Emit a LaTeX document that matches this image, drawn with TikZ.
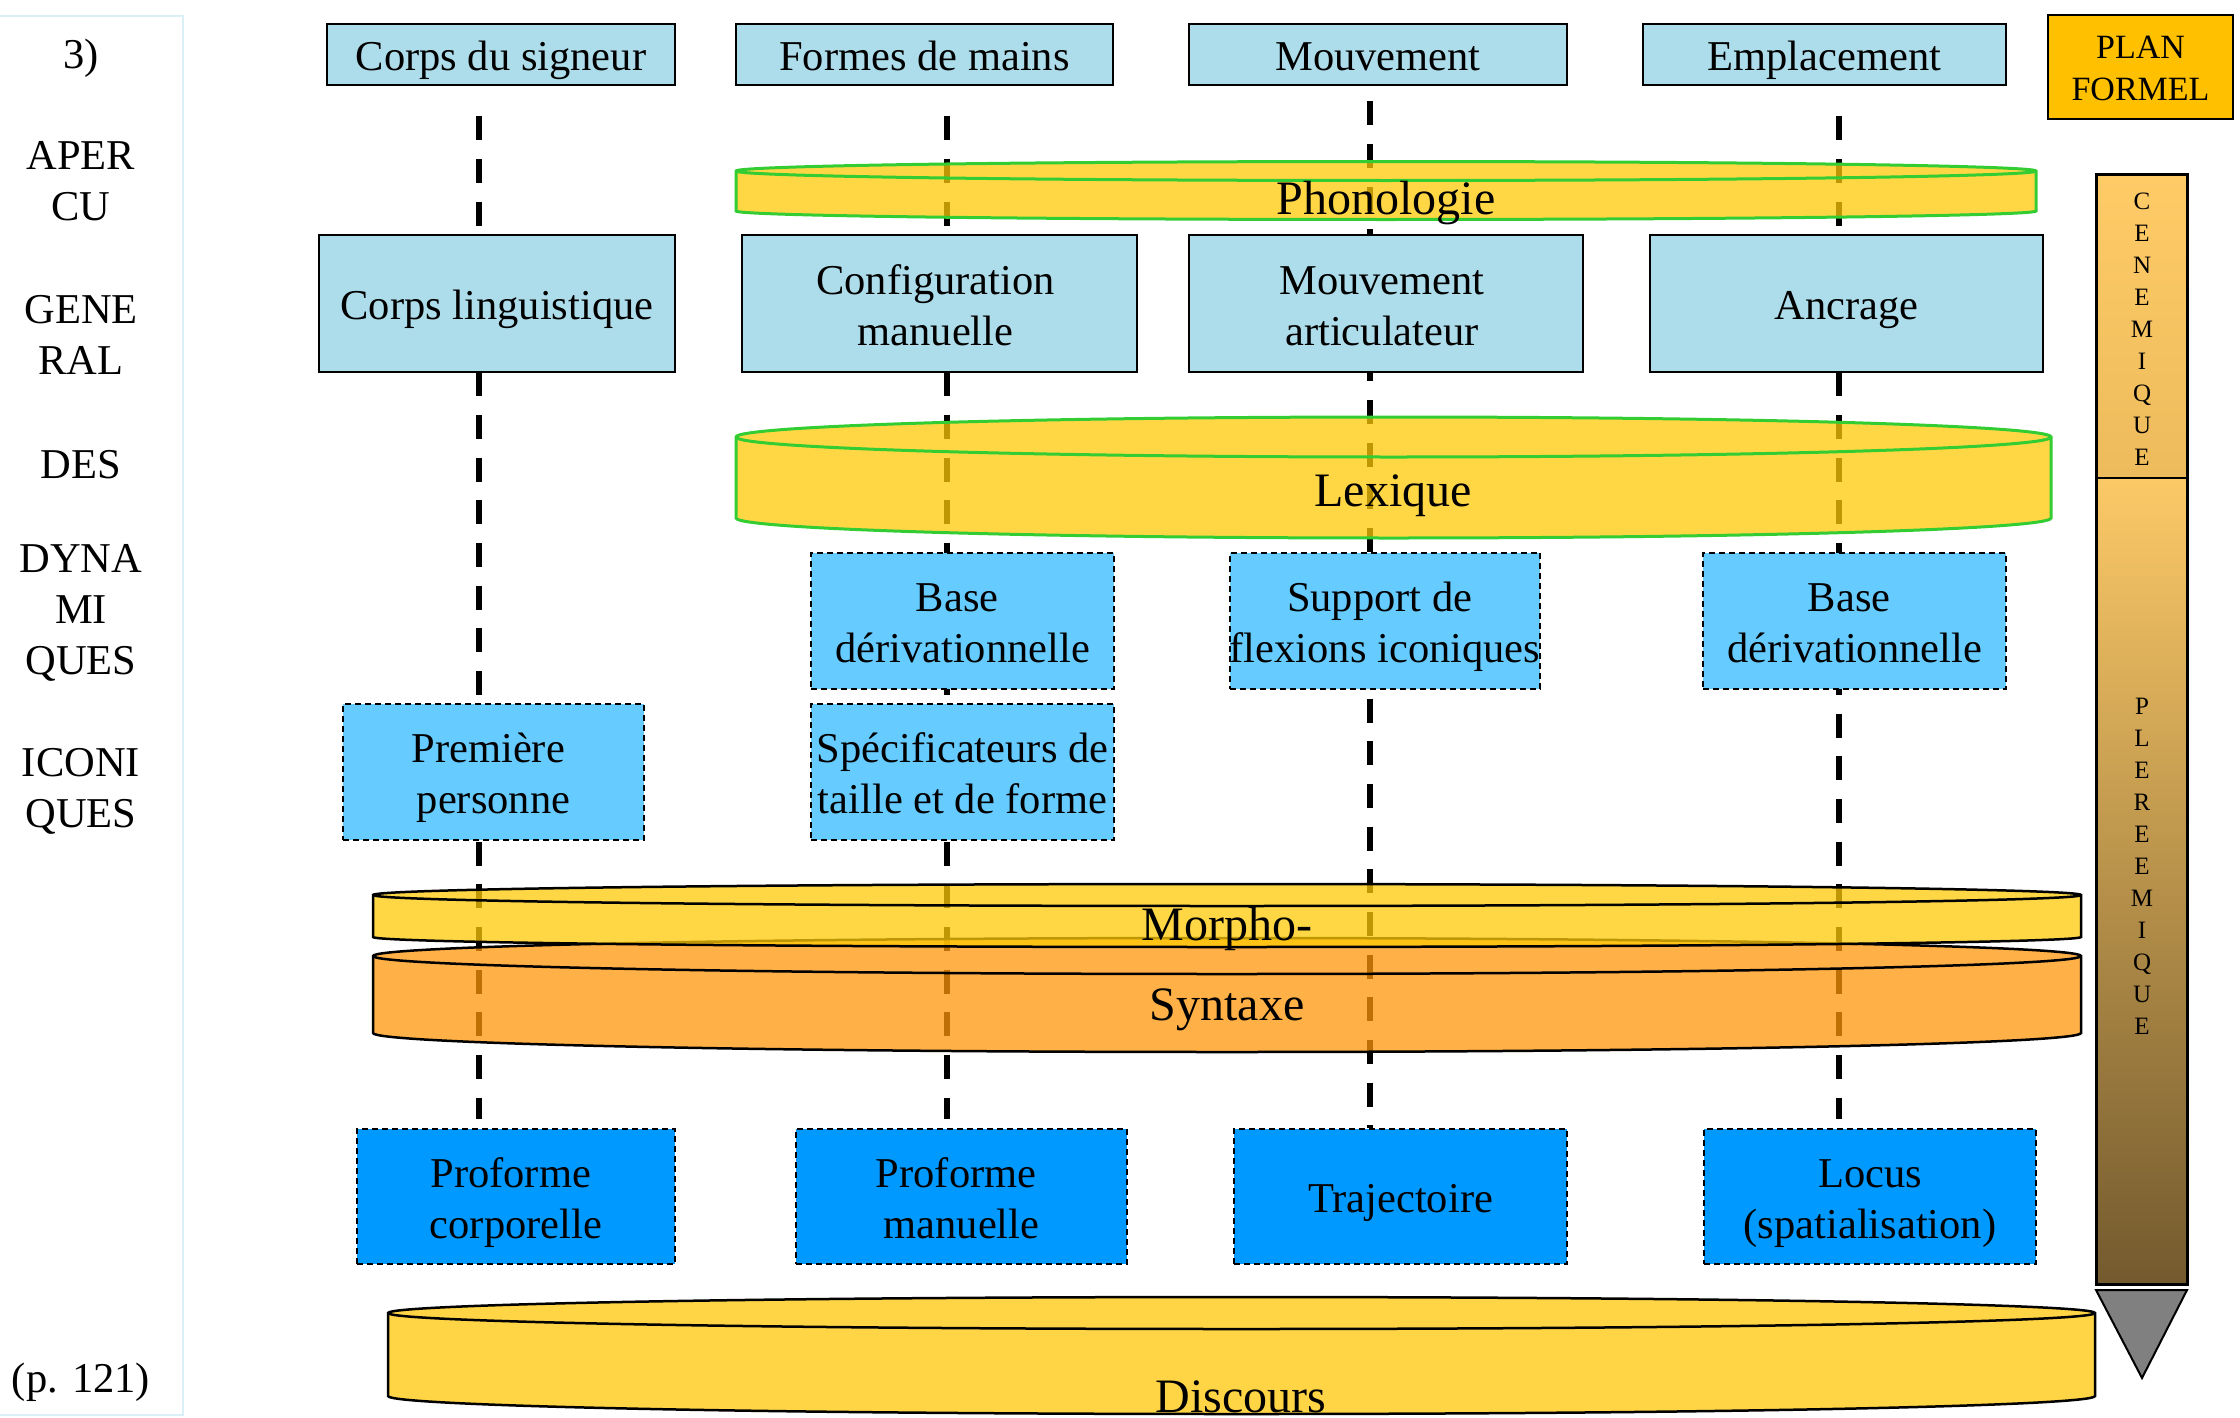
\documentclass[tikz,border=0pt]{standalone}
\usepackage{fontspec}
\setmainfont{Liberation Serif}
\definecolor{lb}{RGB}{173,220,234}
\definecolor{mb}{RGB}{102,204,255}
\definecolor{db}{RGB}{0,153,255}
\definecolor{cylY}{RGB}{255,202,6}
\definecolor{cylO}{RGB}{255,150,8}
\definecolor{discY}{RGB}{255,213,70}
\definecolor{grn}{RGB}{51,204,51}
\definecolor{planO}{RGB}{255,192,0}
\definecolor{panelB}{RGB}{218,240,246}
\definecolor{barA}{RGB}{255,203,103}
\definecolor{barB}{RGB}{237,187,92}
\definecolor{barC}{RGB}{252,201,103}
\definecolor{barD}{RGB}{214,170,86}
\definecolor{barE}{RGB}{115,90,46}
\definecolor{triG}{RGB}{128,128,128}
\pgfdeclarelayer{bg}
\pgfsetlayers{bg,main}
\newcommand{\mycyl}[7]{%
  \pgfmathsetmacro\myrx{(#2-#1)/2}%
  \path[#7] (#1,#3) -- (#1,#5) arc[start angle=180,end angle=0,x radius=\myrx,y radius=#6]
     -- (#2,#3) arc[start angle=0,end angle=-180,x radius=\myrx,y radius=#4] -- cycle;
  \path[#7,fill=none] (#2,#3) arc[start angle=0,end angle=180,x radius=\myrx,y radius=#4];
}
\newcommand{\tsp}{\hspace*{10.6pt}}
\newcommand{\ms}{\rule[-9.3pt]{0pt}{51pt}}
\newcommand{\mps}{\rule[-8.3pt]{0pt}{42pt}}
\begin{document}
\begin{tikzpicture}[x=1pt,y=-1pt,
  txt/.style={font=\fontsize{42.5}{51}\selectfont, inner sep=0pt, align=center},
  cyltxt/.style={font=\fontsize{48}{57}\selectfont, inner sep=0pt, anchor=base},
  sbox/.style={txt, draw=black, line width=2.5pt, fill=lb},
  dbox/.style={txt, draw=black, line width=2pt, dash pattern=on 6pt off 4pt, fill=#1},
  vline/.style={draw=black, line width=5.5pt, dash pattern=on 24pt off 18.67pt},
  cylG/.style={draw=grn, line width=3pt, fill=cylY, fill opacity=0.75},
  cylK/.style={draw=black, line width=2.5pt, fill=#1, fill opacity=0.75},
  cylD/.style={draw=black, line width=2.5pt, fill=discY},
  side/.style={font=\fontsize{42.5}{51}\selectfont, inner sep=0pt, align=center},
  barletters/.style={font=\fontsize{25}{32}\selectfont, inner sep=0pt, align=center}
]
\useasboundingbox (0,0) rectangle (2240,1418);

% left panel
\draw[panelB, line width=1.5pt] (-5,16) rectangle (183,1415);
\node[side] (n3) at (81,58) {3)};
\node[side] (lab1) at (81,181) {APER\\CU};
\node[side] (lab2) at (81,335) {GENE\\RAL};
\node[side] (lab3) at (81,465) {DES};
\node[side] (lab4) at (81,613) {DYNA\\MI\\QUES};
\node[side] (lab5) at (81,791) {ICONI\\QUES};
\node[side] (page) at (81,1382) {(p. 121)};

% row 1
\node[sbox, minimum width=348pt, minimum height=61pt] (t1) at (501,54.5) {\ms Corps du signeur};
\node[sbox, minimum width=377pt, minimum height=61pt] (t2) at (924.5,54.5) {\ms Formes de mains};
\node[sbox, minimum width=378pt, minimum height=61pt] (t3) at (1378,54.5) {\ms Mouvement};
\node[sbox, minimum width=363pt, minimum height=61pt] (t4) at (1824.5,54.5) {\ms Emplacement};

% row 2
\node[sbox, minimum width=356pt, minimum height=137pt] (r1) at (497,303.5) {\ms Corps linguistique};
\node[sbox, minimum width=395pt, minimum height=137pt] (r2) at (939.5,303.5) {\ms Configuration\hspace*{8pt}\\\ms manuelle\hspace*{8pt}};
\node[sbox, minimum width=394pt, minimum height=137pt] (r3) at (1386,303.5) {\ms Mouvement\hspace*{8pt}\\\ms articulateur\hspace*{8pt}};
\node[sbox, minimum width=393pt, minimum height=137pt] (r4) at (1846.5,303.5) {\ms Ancrage};

% row 3
\node[dbox=mb, minimum width=303pt, minimum height=136pt] (d1) at (962.5,621) {\ms Base\tsp\\\ms dérivationnelle};
\node[dbox=mb, minimum width=302pt, minimum height=136pt] (d2) at (1385,621) {\ms Support de\tsp\\\ms flexions iconiques};
\node[dbox=mb, minimum width=303pt, minimum height=136pt] (d3) at (1854.5,621) {\ms Base\tsp\\\ms dérivationnelle};

% row 4
\node[dbox=mb, minimum width=301pt, minimum height=136pt] (e1) at (493.5,772) {\ms Première\tsp\\\ms personne};
\node[dbox=mb, minimum width=303pt, minimum height=136pt] (e2) at (962.5,772) {\ms Spécificateurs de\\\ms taille et de forme};

% row 5
\node[dbox=db, minimum width=318pt, minimum height=135pt] (p1) at (516,1196.5) {\ms Proforme\tsp\\\ms corporelle};
\node[dbox=db, minimum width=331pt, minimum height=135pt] (p2) at (961.5,1196.5) {\ms Proforme\tsp\\\ms manuelle};
\node[dbox=db, minimum width=333pt, minimum height=135pt] (p3) at (1400.5,1196.5) {\ms Trajectoire};
\node[dbox=db, minimum width=332pt, minimum height=135pt] (p4) at (1870,1196.5) {\ms Locus\\\ms (spatialisation)};

% vertical dashed connectors
\coordinate (x1) at (479,0);
\coordinate (x2) at (947,0);
\coordinate (x3) at (1370,0);
\coordinate (x4) at (1839,0);
\begin{pgfonlayer}{bg}
\draw[vline, shorten <=30pt, shorten >=9pt] (t1.south -| x1) -- (p1.north -| x1);
\draw[vline, shorten <=30pt, shorten >=9pt] (t2.south -| x2) -- (p2.north -| x2);
\draw[vline, shorten <=15pt] (t3.south -| x3) -- (p3.north -| x3);
\draw[vline, shorten <=30pt, shorten >=9pt] (t4.south -| x4) -- (p4.north -| x4);
\end{pgfonlayer}

% cylinders
\mycyl{736}{2036}{171}{9.5}{211}{8.5}{cylG}
\mycyl{736}{2051}{437}{20}{518}{20}{cylG}
\mycyl{373}{2081}{956}{18}{1033}{19}{cylK=cylO}
\mycyl{373}{2081}{895}{11}{937}{10}{cylK=cylY}
\mycyl{388}{2095}{1313}{16}{1396}{18}{cylD}
\node[cyltxt] (phono) at (1386,214) {Phonologie};
\node[cyltxt] (lex) at (1393,506) {Lexique};
\node[cyltxt] (morph) at (1227,940) {Morpho-};
\node[cyltxt] (synt) at (1227,1020) {Syntaxe};
\node[cyltxt] (disc) at (1241,1412) {Discours};

% plan formel
\node[draw=black, line width=2.5pt, fill=planO, minimum width=185pt, minimum height=104pt,
      font=\fontsize{34}{42}\selectfont, align=center, inner sep=0pt] (plan) at (2140.5,67) {\mps PLAN\\\mps FORMEL};

% right bar
\shade[top color=barA, bottom color=barB] (2096,174) rectangle (2187,478);
\shade[top color=barC, middle color=barD, bottom color=barE] (2096,478) rectangle (2187,1284);
\draw[line width=3pt] (2096,174) rectangle (2187,1284);
\draw[line width=2.5pt] (2096,478) -- (2187,478);
\draw[line width=2pt, fill=triG] (2096,1290) -- (2187,1290) -- (2142,1378) -- cycle;
\node[barletters] (cen) at (2142,329) {C\\E\\N\\E\\M\\I\\Q\\U\\E};
\node[barletters] (ple) at (2142,866) {P\\L\\E\\R\\E\\E\\M\\I\\Q\\U\\E};
\end{tikzpicture}
\end{document}
